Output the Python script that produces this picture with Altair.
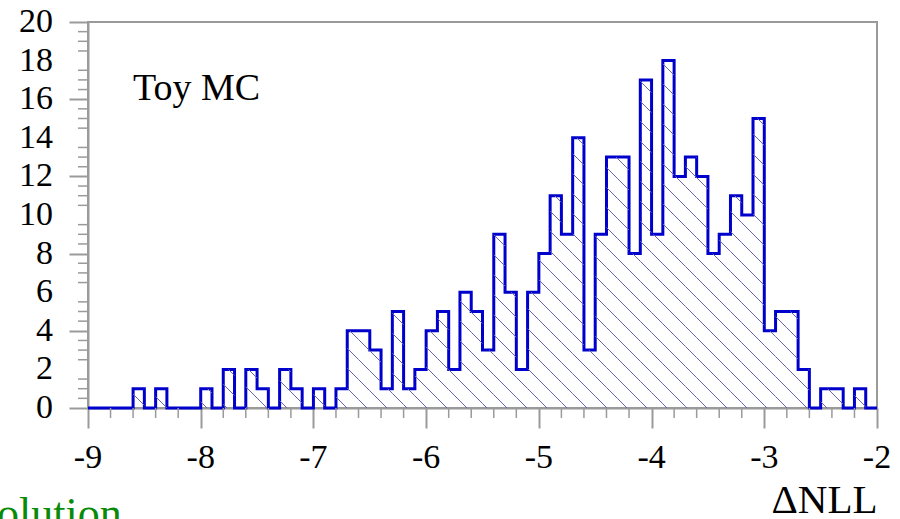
import numpy as np
import pandas as pd
import altair as alt

# Toy MC distribution of ΔNLL: 70 bins of width 0.1 between -9 and -2
bin_lo = -9.0
bin_hi = -2.0
bin_width = 0.1
counts = [
    0, 0, 0, 0, 1, 0, 1, 0, 0, 0,
    1, 0, 2, 0, 2, 1, 0, 2, 1, 0,
    1, 0, 1, 4, 4, 3, 1, 5, 1, 2,
    4, 5, 2, 6, 5, 3, 9, 6, 2, 6,
    8, 11, 9, 14, 3, 9, 13, 13, 8, 17,
    9, 18, 12, 13, 12, 8, 9, 11, 10, 15,
    4, 5, 5, 2, 0, 1, 1, 0, 1, 0,
]

x_major = [-9, -8, -7, -6, -5, -4, -3, -2]
x_labels = ["-9", "-8", "-7", "-6", "-5", "-4", "-3", "-2"]
y_major = [0, 2, 4, 6, 8, 10, 12, 14, 16, 18, 20]
y_labels = ["0", "2", "4", "6", "8", "10", "12", "14", "16", "18", "20"]
x_minor = [round(bin_lo + 0.2 * k, 1) for k in range(36) if k % 5]
y_minor = [0.5 * k for k in range(41) if k % 4]

# plot area size in pixels
W, H = 789, 386
y_max = 20
px_per_x = W / (bin_hi - bin_lo)
px_per_y = H / y_max

edges = [round(bin_lo + i * bin_width, 2) for i in range(len(counts) + 1)]

# outline of the histogram (step curve)
outline = pd.DataFrame({"x": edges, "n": counts + [counts[-1]]})

# diagonal hatching under the histogram, 45 degrees on screen
spacing, phase = 20.0, 19.0
segs = []
edges_px = [(e - bin_lo) * px_per_x for e in edges]
b = phase
while b < W + y_max * px_per_y + spacing:
    for i, c in enumerate(counts):
        if c == 0:
            continue
        h = c * px_per_y
        a = max(edges_px[i], b - h)
        e = min(edges_px[i + 1], b)
        if e - a > 0.05:
            segs.append({
                "x": a / px_per_x + bin_lo, "n": (b - a) / px_per_y,
                "x2": e / px_per_x + bin_lo, "n2": (b - e) / px_per_y,
            })
    b += spacing
hatch_df = pd.DataFrame(segs)

xscale = alt.Scale(domain=[bin_lo, bin_hi], nice=False, zero=False)
yscale = alt.Scale(domain=[0, y_max], nice=False)
serif = "Liberation Serif"
grey = "#9a9a9a"

common = dict(
    grid=False, domainColor=grey, domainWidth=2, tickColor=grey, tickWidth=2,
    labels=False,
)
x_axis = alt.Axis(
    values=x_major, tickSize=20,
    title="ΔNLL", titleFont=serif, titleFontSize=41,
    titleFontWeight="normal", titleColor="black",
    titleAnchor="end", titleAlign="right", titleBaseline="alphabetic",
    titleX=W, titleY=104, **common,
)
y_axis = alt.Axis(values=y_major, tickSize=19, title=None, **common)

step = alt.Chart(outline).mark_line(
    interpolate="step-after", color="#0000cc", strokeWidth=3, strokeJoin="miter"
).encode(
    x=alt.X("x:Q", scale=xscale, axis=x_axis),
    y=alt.Y("n:Q", scale=yscale, axis=y_axis),
)

hatch = alt.Chart(hatch_df).mark_rule(color="#6464b0", strokeWidth=1).encode(
    x=alt.X("x:Q", scale=xscale),
    x2="x2:Q",
    y=alt.Y("n:Q", scale=yscale),
    y2="n2:Q",
)

# minor ticks
xminor = alt.Chart(pd.DataFrame({"x": x_minor})).mark_rule(
    color=grey, strokeWidth=1.5
).encode(
    x=alt.X("x:Q", scale=xscale),
    y=alt.value(H), y2=alt.value(H + 10),
)
yminor = alt.Chart(pd.DataFrame({"n": y_minor})).mark_rule(
    color=grey, strokeWidth=1.5
).encode(
    y=alt.Y("n:Q", scale=yscale),
    x=alt.value(0), x2=alt.value(-10),
)

# tick labels
xlab = alt.Chart(pd.DataFrame({"x": x_major, "t": x_labels})).mark_text(
    font=serif, fontSize=34, color="black", align="center", baseline="alphabetic"
).encode(x=alt.X("x:Q", scale=xscale), y=alt.value(446), text="t:N")
ylab = alt.Chart(pd.DataFrame({"n": y_major, "t": y_labels})).mark_text(
    font=serif, fontSize=34, color="black", align="right", baseline="middle"
).encode(y=alt.Y("n:Q", scale=yscale), x=alt.value(-35), text="t:N")

toy = alt.Chart(pd.DataFrame({"t": ["Toy MC"]})).mark_text(
    font=serif, fontSize=38, color="black", align="left", baseline="alphabetic"
).encode(text="t:N", x=alt.value(45), y=alt.value(77.5))

footer = alt.Chart(pd.DataFrame({"t": ["olution"]})).mark_text(
    font=serif, fontSize=44, color="#0a8a0a", align="left", baseline="alphabetic"
).encode(text="t:N", x=alt.value(-91), y=alt.value(506))

chart = alt.layer(step, hatch, xminor, yminor, xlab, ylab, toy, footer).properties(
    width=W, height=H,
    autosize=alt.AutoSizeParams(type="none"),
    padding={"left": 88, "top": 22, "right": 23, "bottom": 111},
    background="white",
).configure_view(stroke=grey, strokeWidth=2)

chart.save("out.html", embed_options={"renderer": "svg", "actions": False})
